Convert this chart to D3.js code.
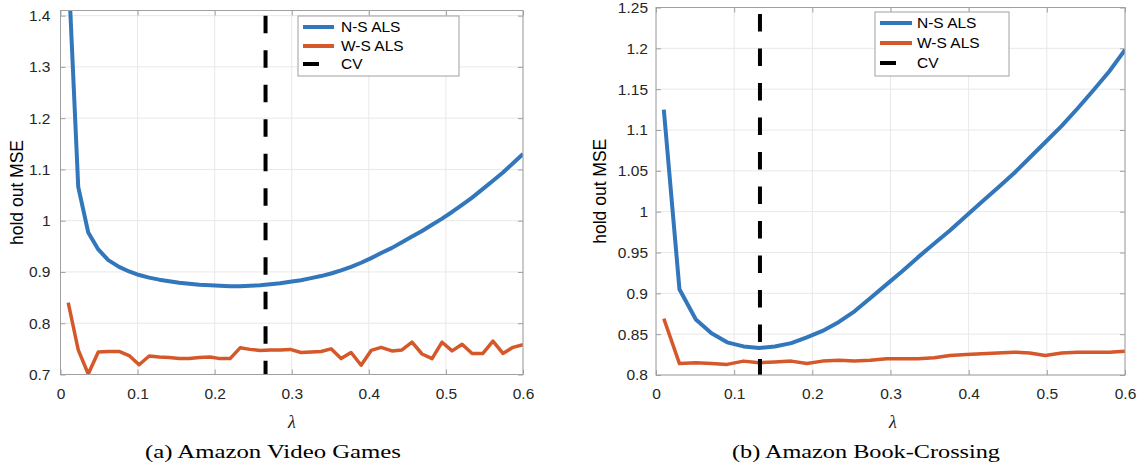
<!DOCTYPE html>
<html>
<head>
<meta charset="utf-8">
<script src="https://cdn.jsdelivr.net/npm/d3@7"></script>
<style>
  body { margin: 0; background: #fff; }
  svg { display: block; }
</style>
</head>
<body>
<svg id="chart" width="1143" height="464"></svg>
<script>
// DATA
const lambdaA = [0.010, 0.023, 0.036, 0.049, 0.062, 0.076, 0.089, 0.102, 0.115, 0.128, 0.141, 0.154,
  0.167, 0.180, 0.194, 0.207, 0.220, 0.233, 0.246, 0.259, 0.272, 0.285, 0.298, 0.312, 0.325, 0.338,
  0.351, 0.364, 0.377, 0.390, 0.403, 0.416, 0.430, 0.443, 0.456, 0.469, 0.482, 0.495, 0.508, 0.521,
  0.534, 0.548, 0.561, 0.574, 0.587, 0.600];
const nsA = [1.500, 1.066, 0.977, 0.944, 0.923, 0.910, 0.901, 0.894, 0.889, 0.885, 0.882, 0.879,
  0.877, 0.875, 0.874, 0.873, 0.872, 0.872, 0.873, 0.874, 0.876, 0.878, 0.881, 0.884, 0.888, 0.892,
  0.897, 0.903, 0.910, 0.918, 0.927, 0.937, 0.947, 0.958, 0.969, 0.980, 0.992, 1.004, 1.017, 1.031,
  1.045, 1.062, 1.078, 1.094, 1.112, 1.130];
const wsA = [0.840, 0.748, 0.701, 0.744, 0.745, 0.745, 0.737, 0.719, 0.736, 0.734, 0.733, 0.731,
  0.731, 0.733, 0.734, 0.731, 0.731, 0.752, 0.749, 0.747, 0.748, 0.748, 0.749, 0.743, 0.744, 0.745,
  0.750, 0.731, 0.743, 0.718, 0.747, 0.753, 0.746, 0.748, 0.763, 0.740, 0.731, 0.763, 0.746, 0.759,
  0.741, 0.741, 0.765, 0.741, 0.753, 0.758];
const cvA = 0.266;
const cvSpanA = [0.7, 1.4];

const lambdaB = [0.010, 0.030, 0.051, 0.071, 0.091, 0.112, 0.132, 0.152, 0.173, 0.193, 0.213, 0.234,
  0.254, 0.274, 0.295, 0.315, 0.335, 0.356, 0.376, 0.397, 0.417, 0.437, 0.458, 0.478, 0.498, 0.519,
  0.539, 0.559, 0.580, 0.600];
const nsB = [1.125, 0.905, 0.868, 0.851, 0.840, 0.835, 0.833, 0.835, 0.839, 0.846, 0.854, 0.865,
  0.878, 0.894, 0.911, 0.927, 0.944, 0.961, 0.977, 0.995, 1.012, 1.029, 1.047, 1.066, 1.085, 1.105,
  1.126, 1.148, 1.172, 1.198];
const wsB = [0.869, 0.814, 0.815, 0.814, 0.813, 0.817, 0.815, 0.816, 0.817, 0.814, 0.817, 0.818,
  0.817, 0.818, 0.820, 0.820, 0.820, 0.821, 0.824, 0.825, 0.826, 0.827, 0.828, 0.827, 0.824, 0.827,
  0.828, 0.828, 0.828, 0.829];
const cvB = 0.133;
const cvSpanB = [0.8, 1.242];

const xTicks = [0, 0.1, 0.2, 0.3, 0.4, 0.5, 0.6];
const yTicksA = [0.7, 0.8, 0.9, 1, 1.1, 1.2, 1.3, 1.4];
const yTicksB = [0.8, 0.85, 0.9, 0.95, 1, 1.05, 1.1, 1.15, 1.2, 1.25];
const seriesNames = ['N-S ALS', 'W-S ALS', 'CV'];
const captions = ['(a) Amazon Video Games', '(b) Amazon Book-Crossing'];

const BLUE = '#3276bb';
const ORANGE = '#d4582a';
const GRID = '#e8e8e8';
const BOX = '#a0a0a0';
const TXT = '#262626';
const SANS = '"Liberation Sans", Arial, Helvetica, sans-serif';
const SERIF = '"Liberation Serif", "Times New Roman", serif';

const svg = d3.select('#chart');

const panels = [
  { id: 'a', lambda: lambdaA, ns: nsA, ws: wsA, cv: cvA, cvSpan: cvSpanA, yDomain: [0.7, 1.41], yTicks: yTicksA,
    left: 60.5, right: 523, top: 10.5, bottom: 374.5, labelPad: 10, ylabX: 17,
    legend: { x: 298, y: 16, w: 161, h: 60, rows: [27, 46, 64], sx: 303, sw: 31, cvw: 16, tx: 341 },
    caption: captions[0], capX: 273, capW: 256, lamX: 292 },
  { id: 'b', lambda: lambdaB, ns: nsB, ws: wsB, cv: cvB, cvSpan: cvSpanB, yDomain: [0.8, 1.25], yTicks: yTicksB,
    left: 656, right: 1125, top: 7.5, bottom: 375, labelPad: 8, ylabX: 600,
    legend: { x: 875, y: 12, w: 134, h: 64, rows: [23, 43, 63], sx: 880, sw: 32, cvw: 16, tx: 917 },
    caption: captions[1], capX: 866, capW: 268, lamX: 893 }
];

const fmt = d => String(+d.toFixed(2));

panels.forEach(p => {
  const x = d3.scaleLinear().domain([0, 0.6]).range([p.left, p.right]);
  const y = d3.scaleLinear().domain(p.yDomain).range([p.bottom, p.top]);
  const g = svg.append('g');

  // grid
  g.append('g').selectAll('line').data(xTicks).enter().append('line')
    .attr('x1', d => x(d)).attr('x2', d => x(d))
    .attr('y1', p.top).attr('y2', p.bottom)
    .attr('stroke', GRID).attr('stroke-width', 1);
  g.append('g').selectAll('line').data(p.yTicks).enter().append('line')
    .attr('x1', p.left).attr('x2', p.right)
    .attr('y1', d => y(d)).attr('y2', d => y(d))
    .attr('stroke', GRID).attr('stroke-width', 1);

  // axes (ticks inward like matlab)
  const styleAxis = sel => {
    sel.select('.domain').remove();
    sel.selectAll('line').attr('stroke', BOX);
    sel.selectAll('text').attr('fill', TXT).style('font-family', SANS).style('font-size', '15.5px');
  };
  g.append('g').attr('transform', `translate(0,${p.bottom})`)
    .call(d3.axisBottom(x).tickValues(xTicks).tickFormat(fmt).tickSizeInner(-5).tickSizeOuter(0).tickPadding(13))
    .call(styleAxis);
  g.append('g').attr('transform', `translate(0,${p.top})`)
    .call(d3.axisTop(x).tickValues(xTicks).tickFormat('').tickSizeInner(-5).tickSizeOuter(0))
    .call(styleAxis);
  g.append('g').attr('transform', `translate(${p.left},0)`)
    .call(d3.axisLeft(y).tickValues(p.yTicks).tickFormat(fmt).tickSizeInner(-5).tickSizeOuter(0).tickPadding(p.labelPad))
    .call(styleAxis);
  g.append('g').attr('transform', `translate(${p.right},0)`)
    .call(d3.axisRight(y).tickValues(p.yTicks).tickFormat('').tickSizeInner(-5).tickSizeOuter(0))
    .call(styleAxis);

  // clip
  svg.append('clipPath').attr('id', 'clip-' + p.id)
    .append('rect').attr('x', p.left).attr('y', p.top)
    .attr('width', p.right - p.left).attr('height', p.bottom - p.top);

  const plot = g.append('g').attr('clip-path', `url(#clip-${p.id})`);
  const line = d3.line().x(d => x(d[0])).y(d => y(d[1]));

  plot.append('path')
    .datum(p.lambda.map((l, i) => [l, p.ns[i]]))
    .attr('d', line).attr('fill', 'none')
    .attr('stroke', BLUE).attr('stroke-width', 4).attr('stroke-linejoin', 'round');
  plot.append('path')
    .datum(p.lambda.map((l, i) => [l, p.ws[i]]))
    .attr('d', line).attr('fill', 'none')
    .attr('stroke', ORANGE).attr('stroke-width', 3.5).attr('stroke-linejoin', 'round');
  plot.append('line')
    .attr('x1', x(p.cv)).attr('x2', x(p.cv))
    .attr('y1', y(p.cvSpan[1])).attr('y2', y(p.cvSpan[0]))
    .attr('stroke', '#000').attr('stroke-width', 4).attr('stroke-dasharray', '17.5,17');

  // box
  g.append('rect')
    .attr('x', p.left).attr('y', p.top)
    .attr('width', p.right - p.left).attr('height', p.bottom - p.top)
    .attr('fill', 'none').attr('stroke', BOX).attr('stroke-width', 1);

  // legend
  const L = p.legend;
  const lg = g.append('g');
  lg.append('rect').attr('x', L.x).attr('y', L.y).attr('width', L.w).attr('height', L.h)
    .attr('fill', '#fff').attr('stroke', BOX).attr('stroke-width', 1);
  const legColors = [BLUE, ORANGE, '#000'];
  seriesNames.forEach((name, i) => {
    lg.append('line')
      .attr('x1', L.sx).attr('x2', L.sx + (i === 2 ? L.cvw : L.sw))
      .attr('y1', L.rows[i]).attr('y2', L.rows[i])
      .attr('stroke', legColors[i]).attr('stroke-width', 4);
    lg.append('text')
      .attr('x', L.tx).attr('y', L.rows[i]).attr('dy', '0.35em')
      .attr('fill', '#000').style('font-family', SANS).style('font-size', '15.5px')
      .text(name);
  });

  // y label
  g.append('text')
    .attr('transform', `translate(${p.ylabX},${(p.top + p.bottom) / 2}) rotate(-90)`)
    .attr('text-anchor', 'middle').attr('dy', '0.35em')
    .attr('fill', '#000').style('font-family', SANS).style('font-size', '17.5px')
    .text('hold out MSE');

  // x label
  g.append('text')
    .attr('x', p.lamX).attr('y', 428)
    .attr('text-anchor', 'middle')
    .attr('fill', TXT).style('font-family', SERIF).style('font-style', 'italic').style('font-size', '18px')
    .text('λ');

  // caption
  g.append('text')
    .attr('x', p.capX).attr('y', 458)
    .attr('text-anchor', 'middle')
    .attr('textLength', p.capW).attr('lengthAdjust', 'spacingAndGlyphs')
    .attr('fill', '#000').style('font-family', SERIF).style('font-size', '19px')
    .text(p.caption);
});
</script>
</body>
</html>
